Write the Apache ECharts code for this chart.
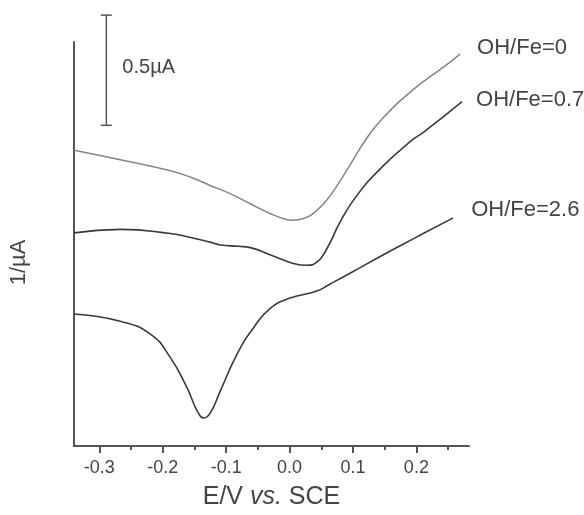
<!DOCTYPE html>
<html>
<head>
<meta charset="utf-8">
<script src="https://cdn.jsdelivr.net/npm/echarts@6/dist/echarts.min.js"></script>
<style>
  html, body { margin: 0; padding: 0; background: #fff; }
  #chart { width: 584px; height: 515px; }
</style>
</head>
<body>
<div id="chart"></div>
<script>
// potential E (V vs. SCE) and signal (µA)
var curveFe0 = [
    [-0.340, 1.342], [-0.267, 1.299], [-0.188, 1.249], [-0.156, 1.219],
    [-0.125, 1.182], [-0.093, 1.144], [-0.062, 1.099], [-0.030, 1.054],
    [-0.010, 1.032], [0.005, 1.024], [0.022, 1.032], [0.043, 1.069], [0.064, 1.136],
    [0.085, 1.227], [0.101, 1.302], [0.119, 1.385], [0.143, 1.475],
    [0.195, 1.617], [0.248, 1.730], [0.269, 1.779]
];
var curveFe07 = [
    [-0.340, 0.967], [-0.267, 0.983], [-0.188, 0.964], [-0.156, 0.946],
    [-0.125, 0.925], [-0.109, 0.912], [-0.080, 0.906], [-0.062, 0.900],
    [-0.030, 0.867], [0.001, 0.833], [0.027, 0.820], [0.043, 0.834],
    [0.059, 0.896], [0.080, 1.018], [0.106, 1.136], [0.148, 1.272],
    [0.195, 1.392], [0.211, 1.423], [0.272, 1.563]
];
var curveFe26 = [
    [-0.340, 0.599], [-0.267, 0.566], [-0.219, 0.506], [-0.188, 0.401],
    [-0.162, 0.266], [-0.145, 0.155], [-0.135, 0.127], [-0.125, 0.150],
    [-0.109, 0.251], [-0.083, 0.416], [-0.057, 0.536], [-0.030, 0.626],
    [0.001, 0.671], [0.043, 0.703], [0.064, 0.735], [0.096, 0.785],
    [0.148, 0.868], [0.201, 0.949], [0.258, 1.035]
];
var seriesNames = ["OH/Fe=0", "OH/Fe=0.7", "OH/Fe=2.6"];
var xTicks = [-0.3, -0.2, -0.1, 0.0, 0.1, 0.2];
var xMinorTicks = [-0.25, -0.15, -0.05, 0.05, 0.15, 0.25];
// scale bar: x position, bottom, top (µA)
var scaleBar = [[-0.289, 1.455, 1.955]];
var scaleBarLabel = "0.5\u00b5A";

var FONT = "Liberation Sans, Arial, sans-serif";
var TXT = "#444";
var AXIS = "#555";

var myChart = echarts.init(document.getElementById("chart"));

var makeLine = function (i, data, color, width, offset) {
    return {
        name: seriesNames[i],
        type: "line",
        data: data,
        smooth: 0.5,
        showSymbol: false,
        lineStyle: { color: color, width: width },
        endLabel: { show: true, formatter: "{a}", fontSize: 22, color: TXT, distance: 0, offset: offset }
    };
};

var option = {
    animation: false,
    grid: { left: 73, right: 115, top: 42, bottom: 66 },
    textStyle: { fontFamily: FONT },
    xAxis: [{
        type: "value",
        min: -0.34,
        max: 0.283,
        name: "E/V {i|vs.} SCE",
        nameLocation: "middle",
        nameGap: 39,
        nameTextStyle: {
            fontSize: 25, color: TXT, fontFamily: FONT,
            rich: { i: { fontStyle: "italic", fontSize: 25, color: TXT, fontFamily: FONT } }
        },
        axisLine: { show: true, onZero: false, lineStyle: { color: AXIS, width: 2 } },
        axisTick: { show: true, customValues: xTicks, length: 7, lineStyle: { color: AXIS, width: 2 } },
        axisLabel: {
            customValues: xTicks,
            fontSize: 18, color: TXT, margin: 13,
            formatter: function (v) { return v.toFixed(1); }
        },
        splitLine: { show: false }
    }, {
        type: "value",
        min: -0.34,
        max: 0.283,
        position: "bottom",
        axisLine: { show: false },
        axisTick: { show: true, customValues: xMinorTicks, length: 4, lineStyle: { color: AXIS, width: 2 } },
        axisLabel: { show: false },
        splitLine: { show: false }
    }],
    yAxis: {
        type: "value",
        min: 0,
        max: 1.833,
        name: "1/\u00b5A",
        nameLocation: "middle",
        nameGap: 44,
        nameTextStyle: { fontSize: 22, color: TXT, fontFamily: FONT, padding: [0, 37, 0, 0] },
        axisLine: { show: true, onZero: false, lineStyle: { color: AXIS, width: 2 } },
        axisTick: { show: false },
        axisLabel: { show: false },
        splitLine: { show: false }
    },
    series: [
        makeLine(0, curveFe0, "#858585", 1.5, [17, -6]),
        makeLine(1, curveFe07, "#3a3a3a", 1.6, [14, -2]),
        makeLine(2, curveFe26, "#3a3a3a", 1.6, [18, -8]),
        {
            type: "custom",
            clip: false,
            silent: true,
            data: scaleBar,
            renderItem: function (params, api) {
                var lo = api.coord([api.value(0), api.value(1)]);
                var hi = api.coord([api.value(0), api.value(2)]);
                var st = { stroke: AXIS, lineWidth: 1.5 };
                return {
                    type: "group",
                    children: [
                        { type: "line", shape: { x1: lo[0], y1: lo[1], x2: hi[0], y2: hi[1] }, style: st },
                        { type: "line", shape: { x1: lo[0] - 5.5, y1: lo[1], x2: lo[0] + 5.5, y2: lo[1] }, style: st },
                        { type: "line", shape: { x1: hi[0] - 5.5, y1: hi[1], x2: hi[0] + 5.5, y2: hi[1] }, style: st },
                        {
                            type: "text",
                            style: {
                                text: scaleBarLabel, x: lo[0] + 16, y: (lo[1] + hi[1]) / 2 - 3,
                                verticalAlign: "middle", fontSize: 20, fill: TXT, fontFamily: FONT
                            }
                        }
                    ]
                };
            }
        }
    ]
};
myChart.setOption(option);
</script>
</body>
</html>
